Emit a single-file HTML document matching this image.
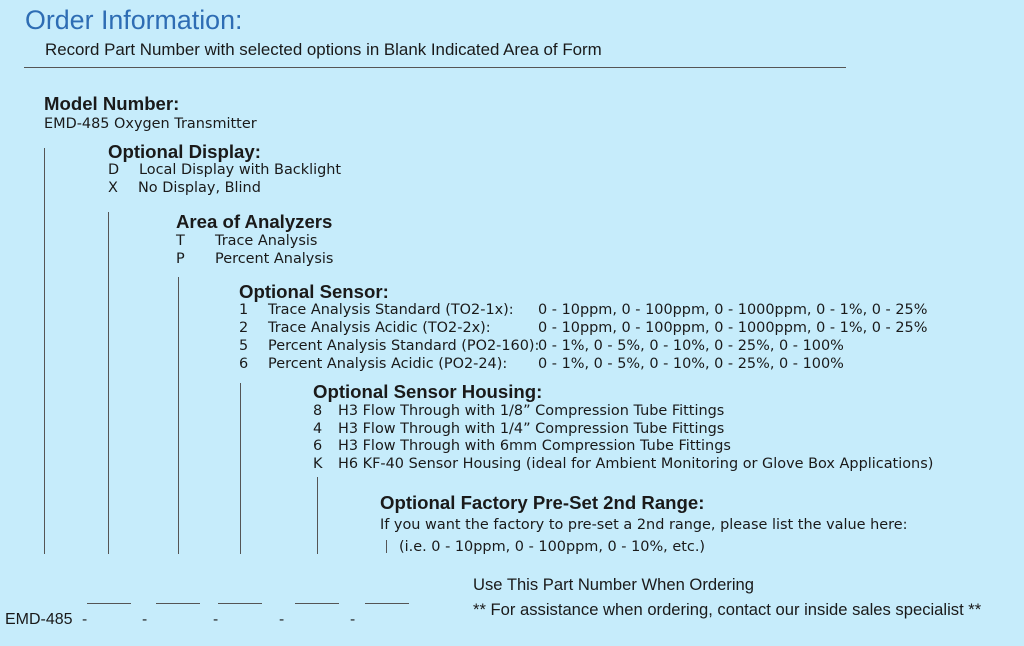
<!DOCTYPE html><html><head><style>
body{margin:0;width:1024px;height:646px;background:#c6ecfb;position:relative;overflow:hidden;font-family:"DejaVu Sans",sans-serif;color:#1a1a1a}
.t{position:absolute;white-space:pre;font-size:14.45px;line-height:18px}
.l{position:absolute;white-space:pre;font-family:"Liberation Sans",sans-serif}
.h{position:absolute;white-space:pre;font-size:18.6px;font-weight:bold;line-height:20px;font-family:"Liberation Sans",sans-serif}
.v{position:absolute;width:1px;background:#555}
.u{position:absolute;height:1px;background:#555;top:603px;width:44px}
</style></head><body>
<div class="l" style="left:25px;top:4px;font-size:26.8px;line-height:32px;color:#2e6db4">Order Information:</div>
<div class="l" style="left:45px;top:40px;font-size:16.9px;line-height:20px">Record Part Number with selected options in Blank Indicated Area of Form</div>
<div style="position:absolute;left:24px;top:67px;width:822px;height:1px;background:#555"></div>
<div class="h" style="left:44px;top:94px">Model Number:</div>
<div class="t" style="left:44px;top:115px">EMD-485 Oxygen Transmitter</div>
<div class="h" style="left:108px;top:142px">Optional Display:</div>
<div class="t" style="left:108px;top:161px">D</div><div class="t" style="left:139px;top:161px">Local Display with Backlight</div>
<div class="t" style="left:108px;top:179px">X</div><div class="t" style="left:138px;top:179px">No Display, Blind</div>
<div class="h" style="left:176px;top:212px">Area of Analyzers</div>
<div class="t" style="left:176px;top:232px">T</div><div class="t" style="left:215px;top:232px">Trace Analysis</div>
<div class="t" style="left:176px;top:250px">P</div><div class="t" style="left:215px;top:250px">Percent Analysis</div>
<div class="h" style="left:239px;top:282px">Optional Sensor:</div>
<div class="t" style="left:239px;top:301px">1</div><div class="t" style="left:268px;top:301px">Trace Analysis Standard (TO2-1x):</div><div class="t" style="left:538px;top:301px">0 - 10ppm, 0 - 100ppm, 0 - 1000ppm, 0 - 1%, 0 - 25%</div>
<div class="t" style="left:239px;top:319px">2</div><div class="t" style="left:268px;top:319px">Trace Analysis Acidic (TO2-2x):</div><div class="t" style="left:538px;top:319px">0 - 10ppm, 0 - 100ppm, 0 - 1000ppm, 0 - 1%, 0 - 25%</div>
<div class="t" style="left:239px;top:337px">5</div><div class="t" style="left:268px;top:337px">Percent Analysis Standard (PO2-160):</div><div class="t" style="left:538px;top:337px">0 - 1%, 0 - 5%, 0 - 10%, 0 - 25%, 0 - 100%</div>
<div class="t" style="left:239px;top:355px">6</div><div class="t" style="left:268px;top:355px">Percent Analysis Acidic (PO2-24):</div><div class="t" style="left:538px;top:355px">0 - 1%, 0 - 5%, 0 - 10%, 0 - 25%, 0 - 100%</div>
<div class="h" style="left:313px;top:382px">Optional Sensor Housing:</div>
<div class="t" style="left:313px;top:402px">8</div><div class="t" style="left:338px;top:402px">H3 Flow Through with 1/8” Compression Tube Fittings</div>
<div class="t" style="left:313px;top:420px">4</div><div class="t" style="left:338px;top:420px">H3 Flow Through with 1/4” Compression Tube Fittings</div>
<div class="t" style="left:313px;top:437px">6</div><div class="t" style="left:338px;top:437px">H3 Flow Through with 6mm Compression Tube Fittings</div>
<div class="t" style="left:313px;top:455px">K</div><div class="t" style="left:338px;top:455px">H6 KF-40 Sensor Housing (ideal for Ambient Monitoring or Glove Box Applications)</div>
<div class="h" style="left:380px;top:493px">Optional Factory Pre-Set 2nd Range:</div>
<div class="t" style="left:380px;top:516px">If you want the factory to pre-set a 2nd range, please list the value here:</div>
<div class="t" style="left:399px;top:538px">(i.e. 0 - 10ppm, 0 - 100ppm, 0 - 10%, etc.)</div>
<div class="v" style="left:386px;top:540px;height:13px"></div>
<div class="v" style="left:44px;top:148px;height:406px"></div>
<div class="v" style="left:108px;top:212px;height:342px"></div>
<div class="v" style="left:178px;top:277px;height:277px"></div>
<div class="v" style="left:240px;top:383px;height:171px"></div>
<div class="v" style="left:317px;top:477px;height:77px"></div>
<div class="l" style="left:473px;top:575px;font-size:16.6px;line-height:20px">Use This Part Number When Ordering</div>
<div class="l" style="left:473px;top:600px;font-size:16.6px;line-height:20px">** For assistance when ordering, contact our inside sales specialist **</div>
<div class="u" style="left:87px"></div><div class="u" style="left:156px"></div><div class="u" style="left:218px"></div><div class="u" style="left:295px"></div><div class="u" style="left:365px"></div>
<div class="l" style="left:5px;top:610px;font-size:16px;line-height:20px">EMD-485</div>
<div class="t" style="left:82px;top:611px">-</div><div class="t" style="left:142px;top:611px">-</div><div class="t" style="left:213px;top:611px">-</div><div class="t" style="left:279px;top:611px">-</div><div class="t" style="left:350px;top:611px">-</div>
</body></html>
